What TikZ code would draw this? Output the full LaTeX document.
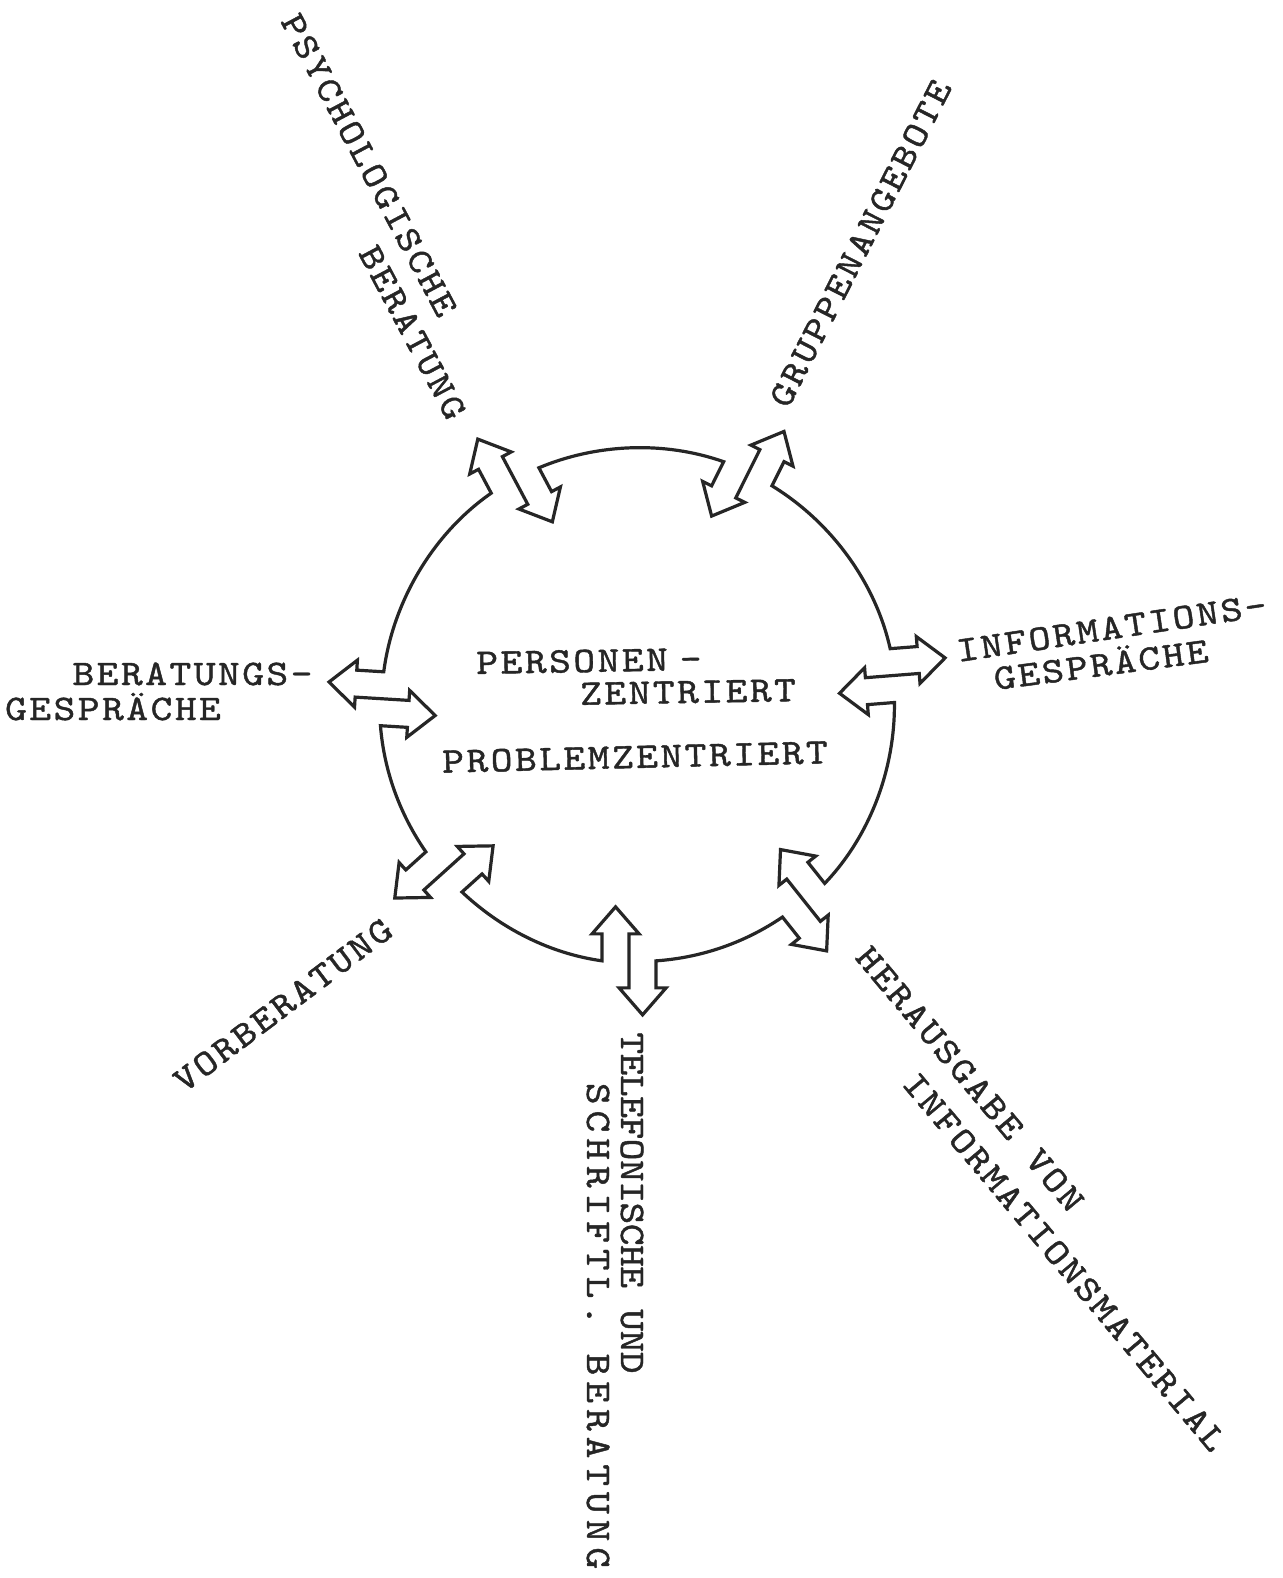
\documentclass[tikz,border=0pt]{standalone}
\usepackage{fontspec}
\newfontfamily\tw{lmmono10-regular.otf}[LetterSpace=7,FakeStretch=1.15,FakeBold=1.2]
\newfontfamily\twn{lmmono10-regular.otf}[LetterSpace=-1.3,FakeStretch=1.15,FakeBold=1.2]
\newfontfamily\tws{lmmono10-regular.otf}[LetterSpace=16.5,FakeStretch=1.15,FakeBold=1.2]
\usetikzlibrary{calc}
\definecolor{ink}{HTML}{262626}
\def\cR{256}
\def\aW{27}
\def\aL{27}
\def\aB{10}
\def\aH{27}
% double arrow fused into the ring: name, position angle, direction, side
\newcommand\mkarr[4]{%
  \coordinate (#1) at ($(C)+(#2:\cR)$);
  \begin{scope}[shift={(#1)},rotate=#3]
    \coordinate (#1-0) at (0,-\aW);
    \coordinate (#1-1) at ({(#4)*\aL},-\aW);
    \coordinate (#1-2) at ({(#4)*\aL},{-\aW-\aB});
    \coordinate (#1-3) at ({(#4)*(\aL+\aH)},{-\aW/2});
    \coordinate (#1-4) at ({(#4)*\aL},\aB);
    \coordinate (#1-5) at ({(#4)*\aL},0);
    \coordinate (#1-6) at ({(-1)*(#4)*\aL},0);
    \coordinate (#1-7) at ({(-1)*(#4)*\aL},-\aB);
    \coordinate (#1-8) at ({(-1)*(#4)*(\aL+\aH)},{\aW/2});
    \coordinate (#1-9) at ({(-1)*(#4)*\aL},{\aW+\aB});
    \coordinate (#1-10) at ({(-1)*(#4)*\aL},\aW);
    \coordinate (#1-11) at (0,\aW);
  \end{scope}}
\tikzset{
  ring/.style={draw=ink, line width=3.2pt, line join=miter, looseness=0.87},
  lbl/.style={font={\tw\fontsize{36}{40}\selectfont}, text=ink, inner sep=0pt,
    text height=22pt, text depth=0pt, anchor=center}
}
\begin{document}
\begin{tikzpicture}[x=1pt,y=1pt]
\fill[white] (0,0) rectangle (1282,-1578);
\path[use as bounding box] (0,0) rectangle (1282,-1578);
\coordinate (C) at (638,-705);
\mkarr{HER}{-49.7}{-51.5}{1}
\mkarr{INF}{6.6}{4.5}{-1}
\mkarr{GRU}{64.6}{63.5}{1}
\mkarr{PSY}{118.7}{118}{-1}
\mkarr{BER}{178.6}{176.5}{1}
\mkarr{VOR}{220.7}{222}{1}
\mkarr{TEL}{268}{270}{-1}
\draw[ring] (HER-0) \foreach \i in {1,...,11}{ -- (HER-\i)}
  to[out=46.3,in=-89.4] (INF-0) \foreach \i in {1,...,11}{ -- (INF-\i)}
  to[out=102.6,in=-31.4] (GRU-0) \foreach \i in {1,...,11}{ -- (GRU-\i)}
  to[out=160.6,in=22.7] (PSY-0) \foreach \i in {1,...,11}{ -- (PSY-\i)}
  to[out=214.7,in=82.6] (BER-0) \foreach \i in {1,...,11}{ -- (BER-\i)}
  to[out=274.6,in=124.7] (VOR-0) \foreach \i in {1,...,11}{ -- (VOR-\i)}
  to[out=316.7,in=172] (TEL-0) \foreach \i in {1,...,11}{ -- (TEL-\i)}
  to[out=4,in=214.3] cycle;
% centre texts
\node[lbl, rotate=1] (pz1) at (589,-661) {PERSONEN\kern12pt-};
\node[lbl, rotate=1] (pz2) at (688,-692) {ZENTRIERT};
\node[lbl, rotate=1.4] (pz3) at (635,-757) {PROBLEMZENTRIERT};
% outer labels
\node[lbl, rotate=-62] (psy1) at (369,-165) {PSYCHOLOGISCHE};
\node[lbl, rotate=-62] (psy2) at (412.5,-332.5) {BERATUNG};
\node[lbl, rotate=63] (gru) at (860.5,-243.5) {GRUPPENANGEBOTE};
\node[lbl] (ber1) at (192.5,-674) {BERATUNGS-};
\node[lbl] (ber2) at (113,-709) {GESPRÄCHE};
\node[lbl, rotate=8.5] (inf1) at (1111.5,-628) {INFORMATIONS-};
\node[lbl, rotate=7.5] (inf2) at (1101,-665) {GESPRÄCHE};
\node[lbl, rotate=37] (vor) at (283,-1005) {VORBERATUNG};
\node[lbl, rotate=-90, font={\twn\fontsize{36}{40}\selectfont}] (tel1) at (632,-1203) {TELEFONISCHE UND};
\node[lbl, rotate=-90, font={\tws\fontsize{36}{40}\selectfont}] (tel2) at (598,-1326) {SCHRIFTL. BERATUNG};
\node[lbl, rotate=-50] (her1) at (970,-1079) {HERAUSGABE VON};
\node[lbl, rotate=-50] (her2) at (1064.5,-1262) {INFORMATIONSMATERIAL};
\end{tikzpicture}
\end{document}
